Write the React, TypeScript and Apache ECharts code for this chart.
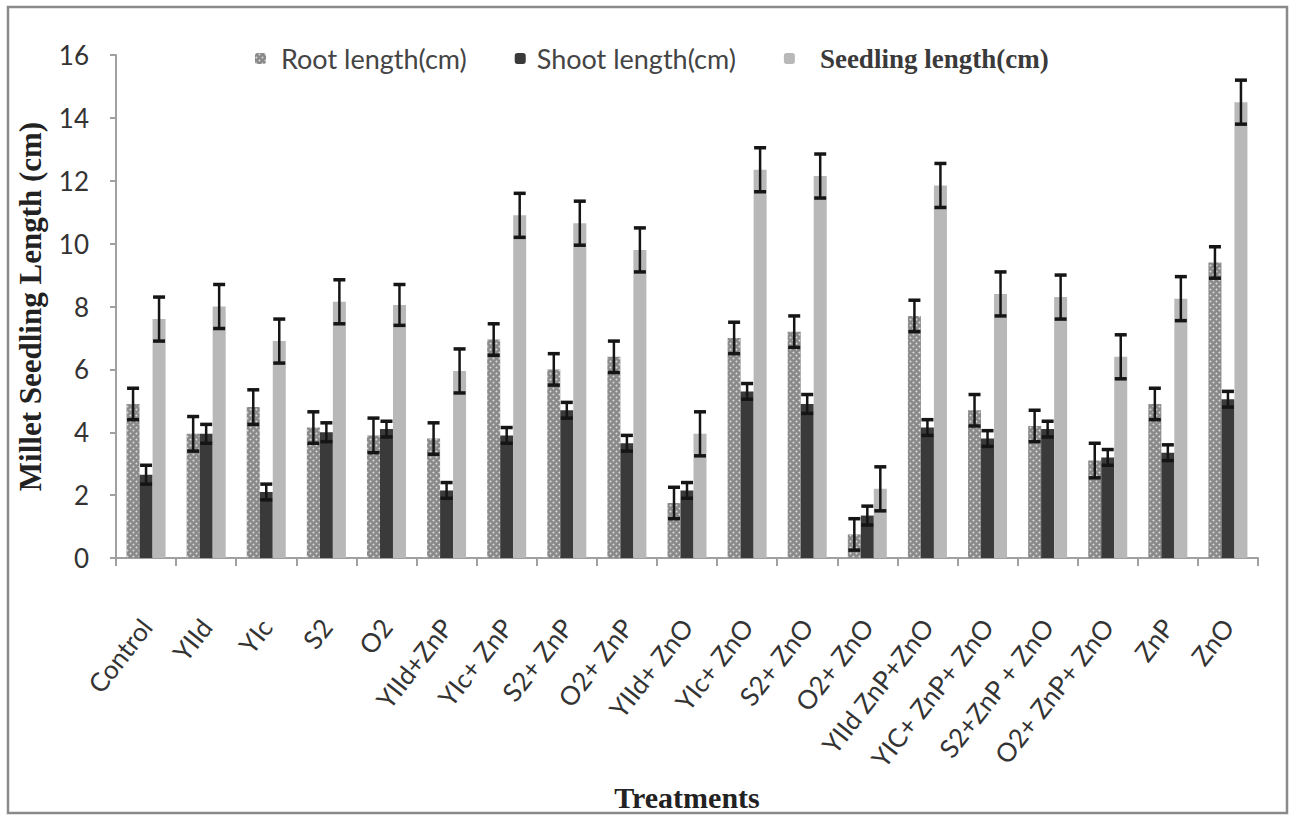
import React, { useEffect, useRef } from "react";
import * as echarts from "echarts";

const categories = [
  "Control", "YIId", "YIc", "S2", "O2", "YIId+ZnP", "YIc+ ZnP", "S2+ ZnP", "O2+ ZnP",
  "YIId+ ZnO", "YIc+ ZnO", "S2+ ZnO", "O2+ ZnO", "YIId ZnP+ZnO", "YIC+ ZnP+ ZnO",
  "S2+ZnP + ZnO", "O2+ ZnP+ ZnO", "ZnP", "ZnO",
];
const rootLength = [4.9, 3.95, 4.8, 4.15, 3.9, 3.8, 6.95, 6.0, 6.4, 1.75, 7.0, 7.2, 0.75, 7.7, 4.7, 4.2, 3.1, 4.9, 9.4];
const rootErr = [0.5, 0.55, 0.55, 0.5, 0.55, 0.5, 0.5, 0.5, 0.5, 0.5, 0.5, 0.5, 0.5, 0.5, 0.5, 0.5, 0.55, 0.5, 0.5];
const shootLength = [2.65, 3.95, 2.1, 4.0, 4.1, 2.15, 3.9, 4.7, 3.65, 2.15, 5.3, 4.9, 1.35, 4.15, 3.8, 4.1, 3.2, 3.35, 5.05];
const shootErr = [0.3, 0.3, 0.25, 0.3, 0.25, 0.25, 0.25, 0.25, 0.25, 0.25, 0.25, 0.3, 0.3, 0.25, 0.25, 0.25, 0.25, 0.25, 0.25];
const seedlingLength = [7.6, 8.0, 6.9, 8.15, 8.05, 5.95, 10.9, 10.65, 9.8, 3.95, 12.35, 12.15, 2.2, 11.85, 8.4, 8.3, 6.4, 8.25, 14.5];
const seedlingErr = [0.7, 0.7, 0.7, 0.7, 0.65, 0.7, 0.7, 0.7, 0.7, 0.7, 0.7, 0.7, 0.7, 0.7, 0.7, 0.7, 0.7, 0.7, 0.7];
const yTicks = { min: 0, max: 16, interval: 2 };

const SANS = "Lato, 'Open Sans', sans-serif";
const SERIF = "'Liberation Serif', 'DejaVu Serif', serif";

function errorSeries(id: string, means: number[], errs: number[], offset: number) {
  return {
    type: "custom",
    name: id,
    data: means.map((m, i) => [i, m - errs[i], m + errs[i]]),
    encode: { x: 0, y: [1, 2] },
    z: 10,
    silent: true,
    renderItem: (_params: any, api: any) => {
      const lo = api.coord([api.value(0), api.value(1)]);
      const hi = api.coord([api.value(0), api.value(2)]);
      const x = lo[0] + offset;
      const st = { stroke: "#151515", lineWidth: 2.5 };
      const cap = { stroke: "#151515", lineWidth: 3.5 };
      return {
        type: "group",
        children: [
          { type: "line", shape: { x1: x, y1: hi[1], x2: x, y2: lo[1] }, style: st },
          { type: "line", shape: { x1: x - 6, y1: hi[1], x2: x + 6, y2: hi[1] }, style: cap },
          { type: "line", shape: { x1: x - 6, y1: lo[1], x2: x + 6, y2: lo[1] }, style: cap },
        ],
      };
    },
  };
}

export default function App() {
  const ref = useRef<HTMLDivElement>(null);
  useEffect(() => {
    if (!ref.current) return;
    const chart = echarts.init(ref.current, undefined, { renderer: "svg" });
    const barW = 13;
    chart.setOption({
      animation: false,
      backgroundColor: "#ffffff",
      aria: { enabled: true, decal: { show: true } },
      grid: { left: 116, right: 31, top: 55, bottom: 244 },
      legend: {
        left: 250,
        top: 40,
        itemWidth: 11,
        itemHeight: 11,
        itemGap: 48,
        data: [
          { name: "Root length(cm)", textStyle: { fontFamily: SANS, fontSize: 27, color: "#444", padding: [0, 0, 0, 10] } },
          { name: "Shoot length(cm)", textStyle: { fontFamily: SANS, fontSize: 27, color: "#444", padding: [0, 0, 0, 6] } },
          { name: "Seedling length(cm)", textStyle: { fontFamily: SERIF, fontWeight: "bold", fontSize: 27, color: "#3a3a3a", padding: [0, 0, 0, 20] } },
        ],
      },
      graphic: [
        {
          type: "rect",
          shape: { x: 8, y: 7, width: 1279, height: 806 },
          style: { fill: "none", stroke: "#8a8a8a", lineWidth: 2.5 },
          silent: true,
          z: -1,
        },
      ],
      xAxis: {
        type: "category",
        data: categories,
        name: "Treatments",
        nameLocation: "middle",
        nameGap: 224,
        nameTextStyle: { fontFamily: SERIF, fontWeight: "bold", fontSize: 30, color: "#222" },
        axisLine: { lineStyle: { color: "#a0a0a0", width: 2 } },
        axisTick: { show: true, length: 8, lineStyle: { color: "#a0a0a0", width: 2 } },
        axisLabel: { interval: 0, rotate: 52, margin: 64, fontFamily: SANS, fontSize: 26, color: "#333" },
      },
      yAxis: {
        type: "value",
        min: yTicks.min,
        max: yTicks.max,
        interval: yTicks.interval,
        name: "Millet Seedling Length (cm)",
        nameLocation: "middle",
        nameRotate: 90,
        nameGap: 70,
        nameTextStyle: { fontFamily: SERIF, fontWeight: "bold", fontSize: 31, color: "#222" },
        axisLine: { show: true, lineStyle: { color: "#a0a0a0", width: 2 } },
        axisTick: { show: true, length: 6, lineStyle: { color: "#a0a0a0", width: 2 } },
        splitLine: { show: false },
        axisLabel: { margin: 27, fontFamily: SANS, fontSize: 26, color: "#333" },
      },
      series: [
        {
          type: "bar",
          name: "Root length(cm)",
          data: rootLength,
          barWidth: barW,
          barGap: "0%",
          itemStyle: {
            color: "#8a8a8a",
            decal: {
              symbol: "circle",
              symbolSize: 0.6,
              color: "rgba(255,255,255,0.7)",
              dashArrayX: [[3, 3], [0, 3, 3, 0]],
              dashArrayY: [3, 0],
              rotation: 0,
            },
          },
        },
        {
          type: "bar",
          name: "Shoot length(cm)",
          data: shootLength,
          barWidth: barW,
          barGap: "0%",
          itemStyle: { color: "#3a3a3a", decal: { symbol: "none" } },
        },
        {
          type: "bar",
          name: "Seedling length(cm)",
          data: seedlingLength,
          barWidth: barW,
          barGap: "0%",
          itemStyle: { color: "#b8b8b8", decal: { symbol: "none" } },
        },
        errorSeries("root-err", rootLength, rootErr, -barW),
        errorSeries("shoot-err", shootLength, shootErr, 0),
        errorSeries("seedling-err", seedlingLength, seedlingErr, barW),
      ],
    });
    return () => chart.dispose();
  }, []);
  return (
    <div
      ref={ref}
      style={{ position: "fixed", left: 0, top: 0, width: 1289, height: 817, background: "#fff" }}
    />
  );
}
